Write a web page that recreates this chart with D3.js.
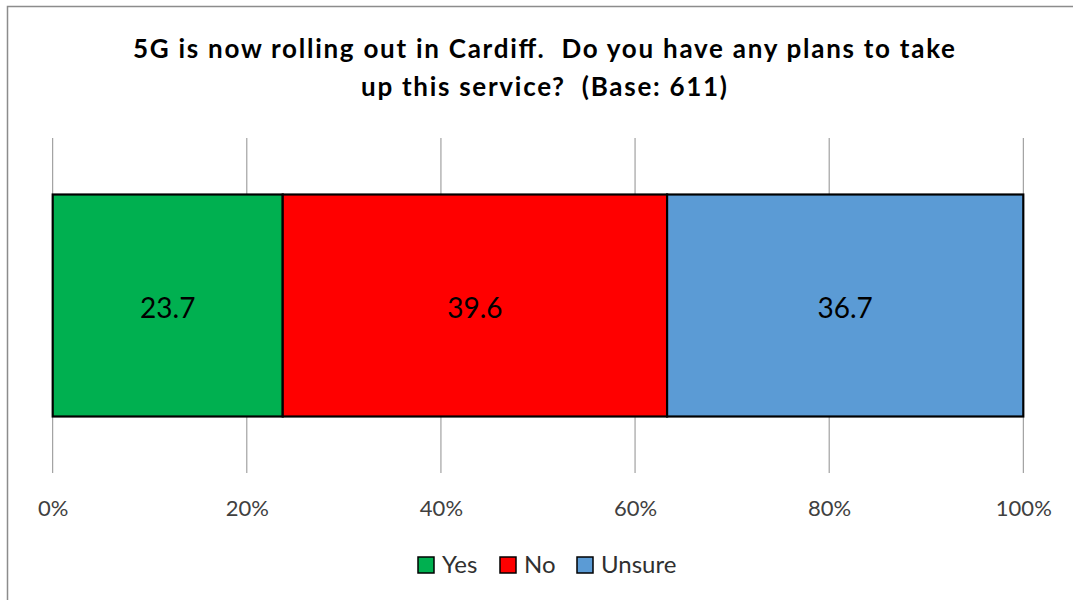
<!DOCTYPE html>
<html>
<head>
<meta charset="utf-8">
<script src="https://cdn.jsdelivr.net/npm/d3@7/dist/d3.min.js"></script>
<style>
  html, body { margin: 0; padding: 0; background: #fff; }
  svg { display: block; font-family: Lato, "Open Sans", sans-serif; }
</style>
</head>
<body>
<svg id="chart" width="1073" height="600"></svg>
<script>
// Survey response shares (%)
const categories = ["Yes", "No", "Unsure"];
const values = [23.7, 39.6, 36.7];
const colors = ["#00B050", "#FF0000", "#5B9BD5"];
const tickValues = [0, 20, 40, 60, 80, 100];
const titleLines = [
  "5G is now rolling out in Cardiff.\u00A0 Do you have any plans to take",
  "up this service?\u00A0 (Base: 611)"
];
const titleWidths = [822, 366];

const svg = d3.select("#chart");

// Chart frame
svg.append("rect")
  .attr("x", 7.5).attr("y", 6.5)
  .attr("width", 1100).attr("height", 700)
  .attr("fill", "none").attr("stroke", "#8c8c8c").attr("stroke-width", 1.5);

// Title
svg.append("g").selectAll("text")
  .data(titleLines)
  .join("text")
  .attr("x", 544)
  .attr("y", (d, i) => 58 + i * 38)
  .attr("text-anchor", "middle")
  .attr("font-size", 26)
  .attr("font-weight", "bold")
  .attr("fill", "#000")
  .attr("textLength", (d, i) => titleWidths[i])
  .attr("lengthAdjust", "spacing")
  .text(d => d);

const x = d3.scaleLinear().domain([0, 100]).range([52.7, 1023.3]);
const gridTop = 138, gridBottom = 473;
const y = d3.scaleBand().domain(["all"]).range([gridTop, gridBottom]).paddingInner(0).paddingOuter(0.2545);

// Vertical gridlines
svg.append("g").selectAll("line")
  .data(tickValues)
  .join("line")
  .attr("x1", d => x(d)).attr("x2", d => x(d))
  .attr("y1", gridTop).attr("y2", gridBottom)
  .attr("stroke", "#8f8f8f").attr("stroke-width", 1);

// Axis tick labels
const axis = d3.axisBottom(x)
  .tickValues(tickValues)
  .tickFormat(d => d + "%")
  .tickSize(0)
  .tickPadding(0);
const axisG = svg.append("g")
  .attr("transform", `translate(0, 500)`)
  .call(axis);
axisG.select(".domain").remove();
axisG.selectAll("text")
  .attr("font-family", "Lato, 'Open Sans', sans-serif")
  .attr("font-size", 22)
  .attr("fill", "#404040");

// Stacked segments
let acc = 0;
const stacked = values.map((v, i) => {
  const s = { cat: categories[i], v, x0: acc, x1: acc + v, color: colors[i] };
  acc += v;
  return s;
});

const seg = svg.append("g").selectAll("g")
  .data(stacked)
  .join("g");

seg.append("rect")
  .attr("x", d => x(d.x0))
  .attr("y", y("all"))
  .attr("width", d => x(d.x1) - x(d.x0))
  .attr("height", y.bandwidth())
  .attr("fill", d => d.color)
  .attr("stroke", "#000")
  .attr("stroke-width", 2.2);

seg.append("text")
  .attr("x", d => (x(d.x0) + x(d.x1)) / 2)
  .attr("y", y("all") + y.bandwidth() / 2 + 2)
  .attr("dy", "0.36em")
  .attr("text-anchor", "middle")
  .attr("font-size", 28)
  .attr("fill", "#000")
  .text(d => d.v.toFixed(1));

// Legend
const legendX = [418, 500, 577];
const legend = svg.append("g").selectAll("g")
  .data(categories)
  .join("g")
  .attr("transform", (d, i) => `translate(${legendX[i]}, 557)`);
legend.append("rect")
  .attr("x", 0).attr("y", 0)
  .attr("width", 16).attr("height", 16)
  .attr("fill", (d, i) => colors[i])
  .attr("stroke", "#000").attr("stroke-width", 1.5);
legend.append("text")
  .attr("x", 24).attr("y", 16)
  .attr("font-size", 24)
  .attr("fill", "#303030")
  .text(d => d);
</script>
</body>
</html>
